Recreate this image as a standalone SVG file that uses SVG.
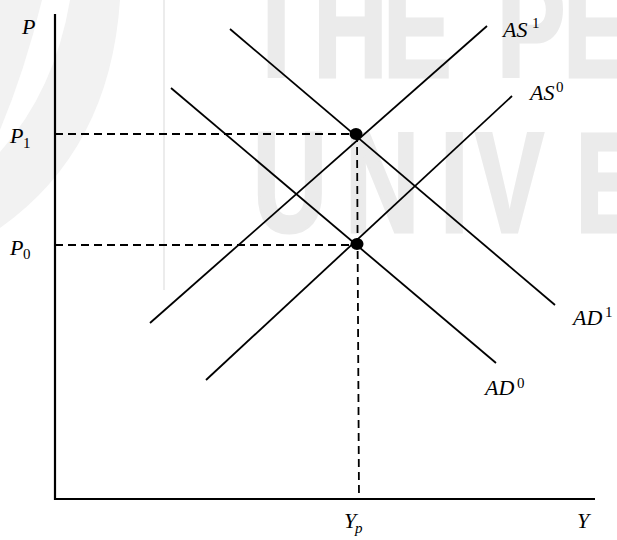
<svg xmlns="http://www.w3.org/2000/svg" width="617" height="540" viewBox="0 0 617 540">
<style>
.wm{fill:#ebebeb;stroke:#ebebeb;stroke-width:3;font-family:"Liberation Sans",Arial,sans-serif;font-weight:bold;font-size:143px}
.curve{fill:none;stroke:#000;stroke-width:1.8;stroke-linecap:butt}
.axis{fill:none;stroke:#000;stroke-width:2.2}
.dash{fill:none;stroke:#000;stroke-width:1.8;stroke-dasharray:8 5}
.lbl{font-family:"Liberation Serif","Times New Roman",serif;font-style:italic;font-size:22px;fill:#000}
.idx{font-family:"Liberation Serif","Times New Roman",serif;font-size:15px;fill:#000}
.dot{fill:#000}
</style>
<rect width="617" height="540" fill="#fff"/>
<g id="watermark">
<path d="M0,0 L42,0 Q25,70 0,130 Z" fill="#f2f2f2"/>
<path d="M70,0 L120,0 Q110,150 0,228 L0,152 Q55,90 70,0 Z" fill="#f2f2f2"/>
<line x1="164" y1="0" x2="164" y2="290" stroke="#ececec" stroke-width="2"/>
<g transform="scale(0.72,1)">
<text class="wm" x="340 435 532 620 690 782" y="77">THE PE</text>
<text class="wm" x="351 479 611 660 799" y="232">UNIVE</text>
</g>
</g>
<g id="axes">
<polyline class="axis" points="55,14 55,499 595,499"/>
</g>
<g id="connectors">
<line class="dash" x1="55" y1="134" x2="357" y2="134"/>
<line class="dash" x1="55" y1="245" x2="357" y2="245"/>
<line class="dash" x1="357" y1="134" x2="359" y2="499"/>
</g>
<g id="AS1"><line class="curve" x1="150" y1="323" x2="487" y2="26"/></g>
<g id="AS0"><line class="curve" x1="206" y1="380" x2="512" y2="96"/></g>
<g id="AD1"><line class="curve" x1="230" y1="29" x2="555" y2="305"/></g>
<g id="AD0"><line class="curve" x1="171" y1="88" x2="496" y2="363"/></g>
<g id="E1"><ellipse class="dot" cx="356" cy="134" rx="6.5" ry="6"/></g>
<g id="E0"><ellipse class="dot" cx="357" cy="244" rx="6.5" ry="6"/></g>
<g id="labels">
<text class="lbl" x="22" y="34">P</text>
<text class="lbl" x="10" y="143">P</text><text class="idx" x="23" y="148">1</text>
<text class="lbl" x="10" y="255">P</text><text class="idx" x="23" y="259">0</text>
<text class="lbl" x="503" y="37">AS</text><text class="idx" x="532" y="28">1</text>
<text class="lbl" x="530" y="100">AS</text><text class="idx" x="556" y="92">0</text>
<text class="lbl" x="573" y="325">AD</text><text class="idx" x="605" y="317">1</text>
<text class="lbl" x="485" y="395">AD</text><text class="idx" x="517" y="388">0</text>
<text class="lbl" x="344" y="528">Y</text><text class="lbl" x="355" y="533" style="font-size:15px">p</text>
<text class="lbl" x="577" y="528">Y</text>
</g>
</svg>
